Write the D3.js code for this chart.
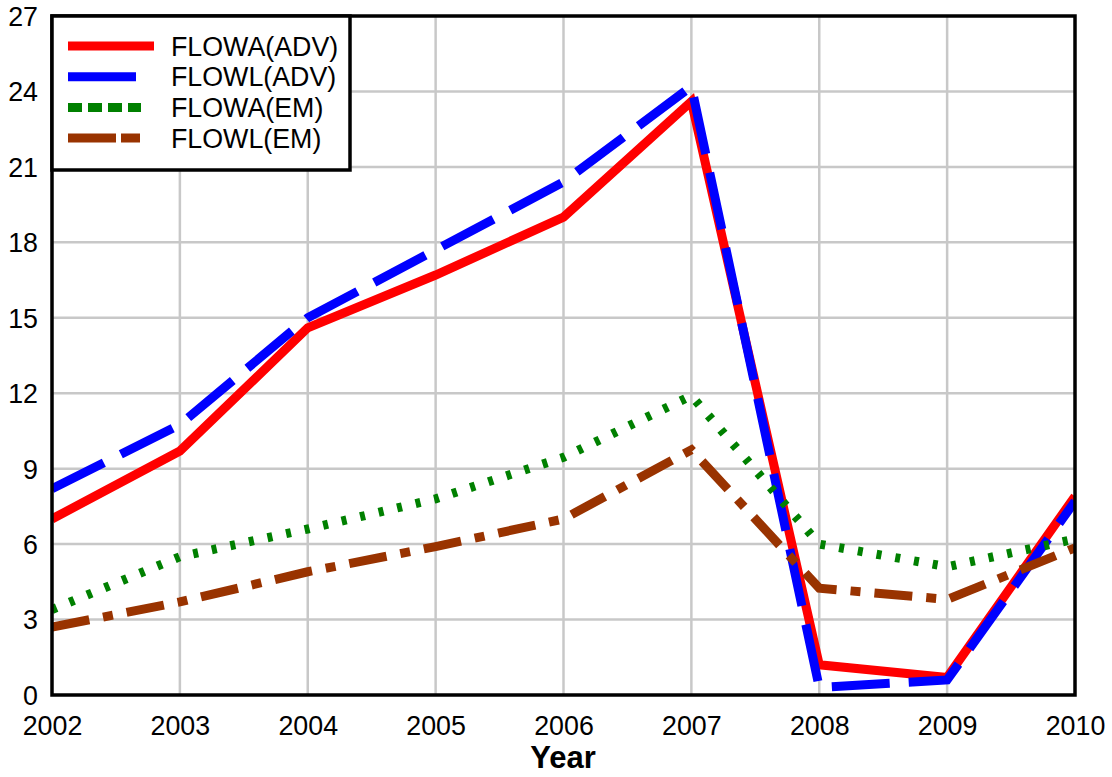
<!DOCTYPE html>
<html><head><meta charset="utf-8">
<script src="https://cdn.jsdelivr.net/npm/d3@7/dist/d3.min.js"></script>
<style>body{margin:0;background:#fff;} svg{display:block;font-family:"Liberation Sans",Arial,sans-serif;}</style>
</head><body>
<svg id="c" width="1112" height="777"></svg>
<script>
const years = [2002,2003,2004,2005,2006,2007,2008,2009,2010];
const yTicks = [0,3,6,9,12,15,18,21,24,27];
const flowaAdv = [7.0, 9.7, 14.6, 16.7, 19.0, 23.6, 1.2, 0.7, 7.9];
const flowlAdv = [8.2, 10.75, 15.0, 17.7, 20.4, 24.2, 0.3, 0.6, 7.7];
const flowaEm  = [3.4, 5.5, 6.6, 7.8, 9.45, 11.9, 6.0, 5.1, 6.2];
const flowlEm  = [2.7, 3.7, 4.9, 5.9, 7.0, 9.75, 4.25, 3.8, 5.85];
const seriesNames = ["FLOWA(ADV)","FLOWL(ADV)","FLOWA(EM)","FLOWL(EM)"];

const series = [
  {name:seriesNames[0], values:flowaAdv, color:"#ff0000", dash:null, legendDash:null, legendLen:86},
  {name:seriesNames[1], values:flowlAdv, color:"#0000ff", dash:"58,19", legendDash:null, legendLen:68},
  {name:seriesNames[2], values:flowaEm, color:"#008000", dash:"5,14", legendDash:"14,6", legendLen:73},
  {name:seriesNames[3], values:flowlEm, color:"#993300", dash:"38,14,10,14", legendDash:"48,5,19,100", legendLen:73}
];

const L=52, R=1075, T=16, B=695;
const FS=26.8;
const svg = d3.select("#c");
const x = d3.scaleLinear().domain([2002,2010]).range([L,R]);
const y = d3.scaleLinear().domain([0,27]).range([B,T]);

// grid
const g = svg.append("g");
g.selectAll(".vg").data(years.slice(1,-1)).enter().append("line")
 .attr("x1",d=>x(d)).attr("x2",d=>x(d)).attr("y1",T).attr("y2",B)
 .attr("stroke","#c8c8c8").attr("stroke-width",2.5);
g.selectAll(".hg").data(yTicks.slice(1,-1)).enter().append("line")
 .attr("y1",d=>y(d)).attr("y2",d=>y(d)).attr("x1",L).attr("x2",R)
 .attr("stroke","#c8c8c8").attr("stroke-width",2.5);

// clip
svg.append("clipPath").attr("id","clip").append("rect")
 .attr("x",L).attr("y",T).attr("width",R-L).attr("height",B-T);

const line = d3.line().x((d,i)=>x(years[i])).y(d=>y(d));
const lg = svg.append("g").attr("clip-path","url(#clip)");
series.forEach(s=>{
  lg.append("path").datum(s.values).attr("d",line)
   .attr("fill","none").attr("stroke",s.color).attr("stroke-width",9)
   .attr("stroke-dasharray",s.dash).attr("stroke-linejoin","miter");
});

// axes
const xAxis = d3.axisBottom(x).tickValues(years).tickFormat(d3.format("d")).tickSize(0).tickPadding(21);
const yAxis = d3.axisLeft(y).tickValues(yTicks).tickSize(0).tickPadding(14);
const xa = svg.append("g").attr("transform",`translate(0,${B})`).call(xAxis);
const ya = svg.append("g").attr("transform",`translate(${L},0)`).call(yAxis);
[xa,ya].forEach(a=>{a.select(".domain").remove(); a.selectAll("text").attr("font-size",FS).attr("fill","#000").attr("font-family","'Liberation Sans',Arial,sans-serif");});
ya.selectAll("text").attr("dy","0.35em");

// frame
svg.append("rect").attr("x",L).attr("y",T).attr("width",R-L).attr("height",B-T)
 .attr("fill","none").attr("stroke","#000").attr("stroke-width",3.5);

svg.append("text").attr("x",563).attr("y",768).attr("text-anchor","middle")
 .attr("font-size",31).attr("font-weight","bold").text("Year");

// legend
const leg = svg.append("g");
leg.append("rect").attr("x",L).attr("y",T).attr("width",298).attr("height",154)
 .attr("fill","#fff").attr("stroke","#000").attr("stroke-width",3.5);
series.forEach((s,i)=>{
  const yy = 46 + i*30.7;
  leg.append("line").attr("x1",68).attr("x2",68+s.legendLen).attr("y1",yy).attr("y2",yy)
   .attr("stroke",s.color).attr("stroke-width",9).attr("stroke-dasharray",s.legendDash);
  leg.append("text").attr("x",171).attr("y",yy).attr("dy","0.36em")
   .attr("font-size",FS).text(s.name);
});
</script>
</body></html>
